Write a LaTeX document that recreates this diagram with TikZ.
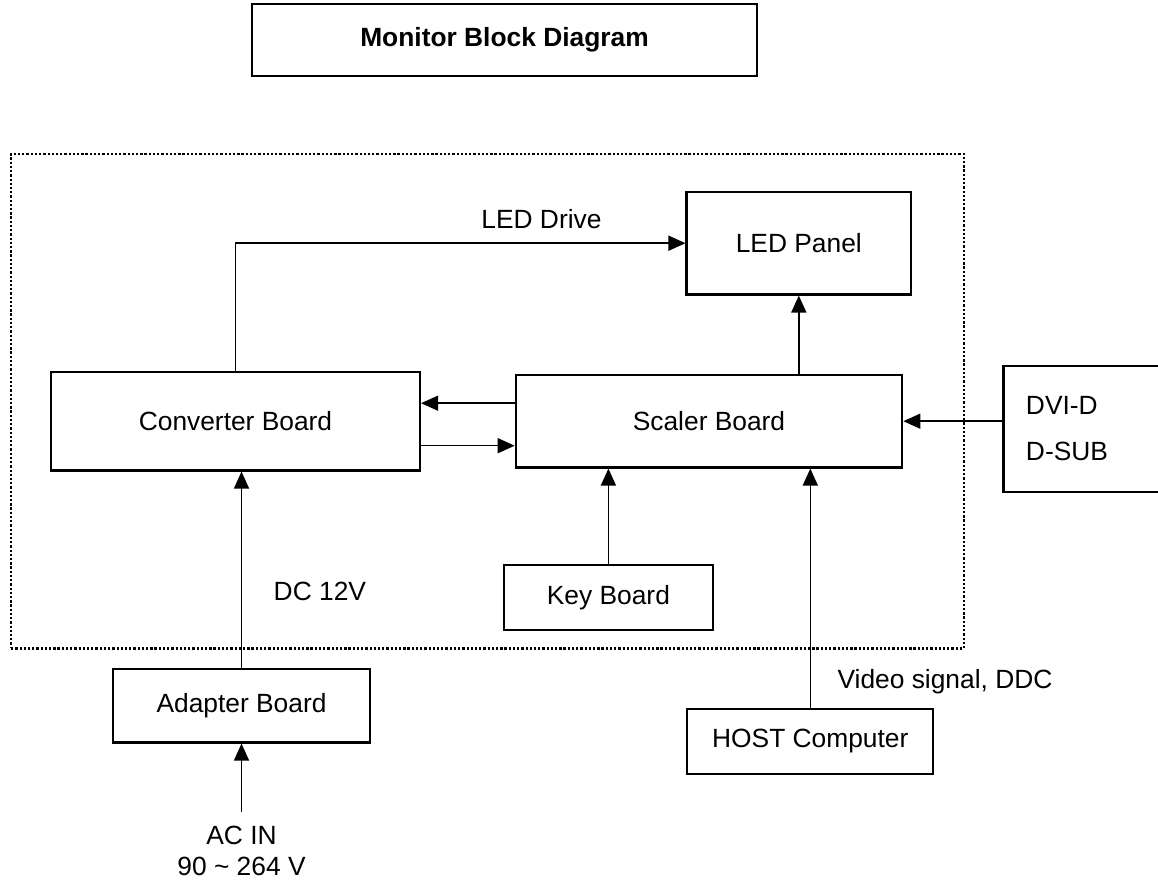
\documentclass[tikz,border=0pt]{standalone}
\usepackage{fontspec}
\setmainfont{Liberation Sans}
\usepackage{tikz}
\usetikzlibrary{positioning,arrows.meta}

\begin{document}
\begin{tikzpicture}[
    x=0.02cm, y=-0.02cm,
    block/.style={
        rectangle,
        draw,
        line width=0.045cm,
        align=center,
        font=\fontsize{15}{17.6}\selectfont
    },
    heading/.style={
        block,
        font=\fontsize{15}{17.6}\selectfont\bfseries
    },
    frame/.style={
        rectangle,
        draw,
        line width=0.045cm,
        dash pattern=on 1.3pt off 1.1pt,
        minimum width=19.06cm,
        minimum height=9.89cm
    },
    tag/.style={
        inner sep=0pt,
        align=center,
        font=\fontsize{15}{17.6}\selectfont
    },
    arrow/.style={-{Triangle[length=0.34cm,width=0.3cm]}, line width=0.03cm}
]
\useasboundingbox (0,0) rectangle (1158,881);

\node[frame] (monitor) at (487.5,401.2) {};

\node[heading, minimum width=10.09cm, minimum height=1.44cm] (title) at (504.5,40) {Monitor Block Diagram};

\node[block, minimum width=4.49cm, minimum height=2.05cm] (led) at (798.8,243.2) {LED Panel};
\node[block, minimum width=7.38cm, minimum height=1.97cm] (conv) at (235.5,421.2) {Converter Board};
\node[block, minimum width=7.73cm, minimum height=1.85cm] (scaler) at (709,421.2) {Scaler Board};
\node[block, align=left, text width=2.63cm, inner xsep=0.45cm, minimum height=2.51cm] (dvi) at (1091.7,428.9) {DVI-D\\[8.5pt]D-SUB};
\node[block, minimum width=4.17cm, minimum height=1.30cm] (key) at (608.4,597.5) {Key Board};
\node[block, minimum width=5.15cm, minimum height=1.47cm] (adapter) at (241.5,705.7) {Adapter Board};
\node[block, minimum width=4.92cm, minimum height=1.30cm] (host) at (810.3,741.5) {HOST Computer};
\node[tag, inner ysep=0.27cm] (acin) at (241.5,850.5) {AC IN\\90 \~{} 264 V};

\draw[arrow] (conv.north) |- (led.west) node[tag, pos=0.84, above=0.27cm] {LED Drive};
\draw[arrow] (scaler.north -| led.south) -- (led.south);
\draw[arrow] ([yshift=0.36cm]scaler.west) -- ([yshift=0.36cm]conv.east);
\draw[arrow] ([yshift=-0.49cm]conv.east) -- ([yshift=-0.49cm]scaler.west);
\draw[arrow] (dvi.west |- scaler.east) -- (scaler.east);
\draw[arrow] (key) -- (key |- scaler.south);
\draw[arrow] (adapter) -- (adapter |- conv.south) node[tag, pos=0.39, right=0.63cm] {DC 12V};
\draw[arrow] (host) -- (host |- scaler.south) node[tag, pos=0.11, right=0.53cm] {Video signal, DDC};
\draw[arrow] (acin) -- (adapter);

\end{tikzpicture}
\end{document}
